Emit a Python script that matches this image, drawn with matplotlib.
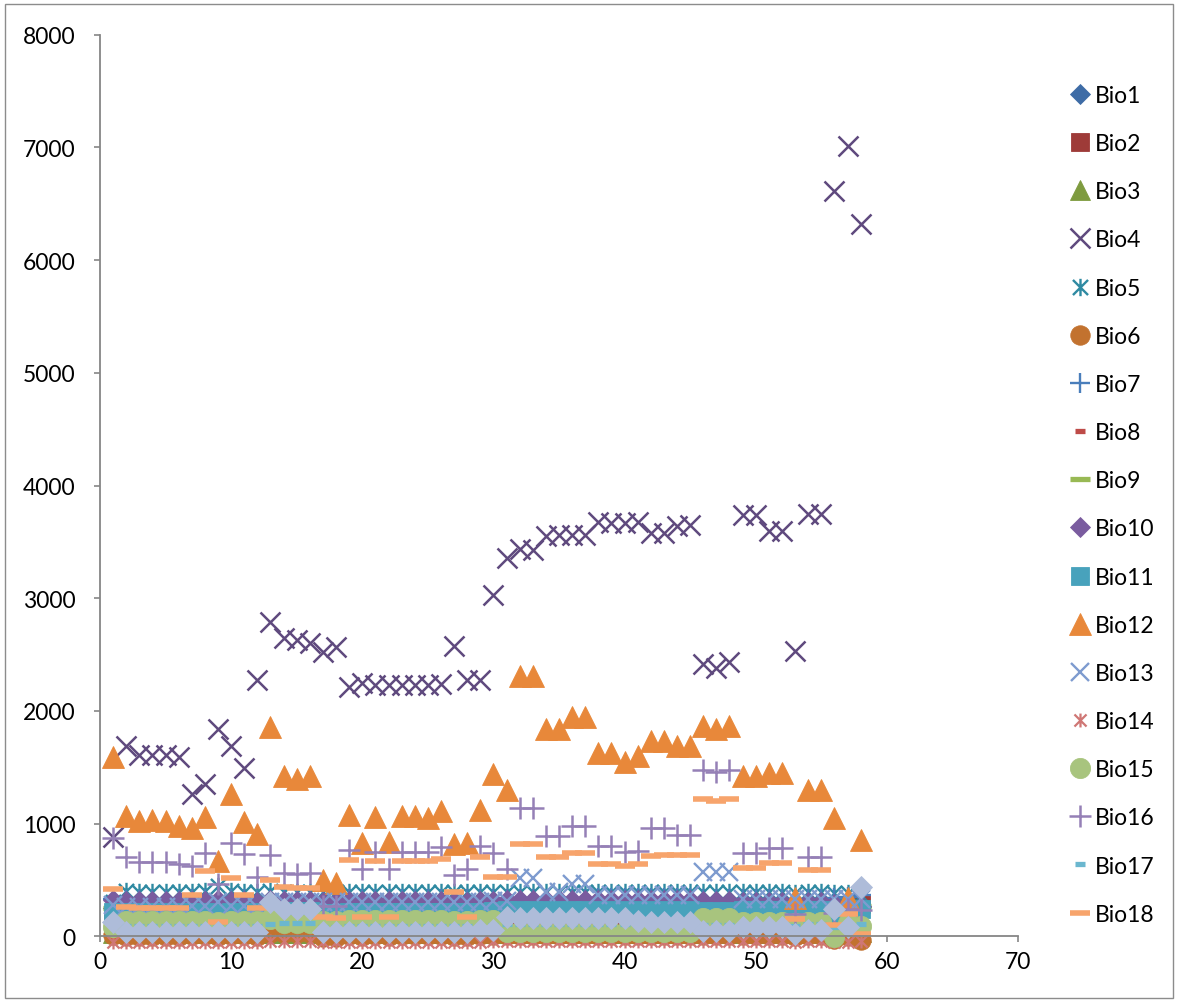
import matplotlib
matplotlib.use('Agg')
import matplotlib.pyplot as plt
from matplotlib.path import Path
from matplotlib.patches import Rectangle

plt.rcParams['font.family'] = ['Lato', 'DejaVu Sans']

# ---------------- data (site index 1..58) ----------------
sites = list(range(1, 59))

bio1 = [250, 240, 245, 245, 245, 245, 235, 240, 230, 245,
        240, 235, 250, 245, 245, 245, 230, 230, 240, 235,
        240, 235, 240, 240, 240, 240, 235, 235, 240, 245,
        250, 250, 250, 255, 255, 255, 255, 250, 250, 250,
        250, 250, 250, 250, 250, 245, 245, 245, 250, 250,
        250, 250, 240, 250, 250, 240, 240, 260]
bio2 = [120, 115, 115, 115, 115, 115, 120, 120, 115, 120,
        120, 115, 125, 120, 120, 120, 110, 110, 120, 115,
        120, 115, 120, 120, 120, 120, 115, 115, 120, 120,
        125, 125, 125, 125, 125, 125, 125, 125, 125, 125,
        125, 125, 125, 125, 125, 120, 120, 120, 125, 125,
        125, 125, 115, 125, 125, 120, 120, 290]
bio3 = [32, 30, 30, 30, 30, 30, 31, 31, 30, 31,
        31, 30, 33, 32, 32, 32, 29, 29, 31, 30,
        31, 30, 31, 31, 31, 31, 30, 30, 31, 32,
        33, 33, 33, 33, 33, 33, 33, 33, 33, 33,
        33, 33, 33, 33, 33, 32, 32, 32, 33, 33,
        33, 33, 30, 33, 33, 31, 31, 35]
bio4 = [880, 1690, 1610, 1610, 1610, 1590, 1260, 1350, 1840, 1690,
        1490, 2270, 2790, 2650, 2630, 2600, 2520, 2570, 2210, 2250,
        2230, 2230, 2230, 2230, 2230, 2240, 2580, 2270, 2270, 3030,
        3360, 3440, 3430, 3550, 3560, 3560, 3560, 3680, 3670, 3670,
        3680, 3580, 3580, 3640, 3650, 2420, 2380, 2430, 3740, 3740,
        3600, 3600, 2530, 3750, 3750, 6610, 7010, 6320]
bio5 = [300, 400, 395, 395, 395, 395, 395, 400, 450, 400,
        395, 390, 400, 395, 395, 395, 390, 390, 395, 390,
        395, 390, 395, 395, 395, 395, 390, 390, 395, 390,
        390, 395, 395, 390, 390, 390, 390, 390, 390, 390,
        390, 390, 390, 390, 390, 390, 390, 390, 390, 390,
        390, 390, 385, 390, 390, 380, 385, 370]
bio6 = [10, 5, 5, 5, 5, 5, 8, 8, 0, 8,
        8, 5, 30, 30, 30, 30, -5, -5, 8, 0,
        8, 0, 8, 8, 8, 8, 5, 0, 8, 10,
        15, 15, 15, 15, 15, 15, 15, 15, 15, 15,
        15, 15, 15, 15, 15, 10, 10, 10, 15, 15,
        15, 15, 5, 15, 15, -20, 0, -30]
bio7 = [330, 320, 320, 320, 320, 320, 330, 330, 340, 330,
        330, 320, 320, 320, 320, 320, 320, 320, 330, 330,
        330, 330, 330, 330, 330, 330, 330, 330, 330, 330,
        330, 330, 330, 330, 330, 330, 330, 340, 340, 340,
        340, 340, 340, 340, 340, 330, 330, 330, 330, 330,
        330, 330, 330, 330, 330, 340, 350, 370]
bio8 = [230, 220, 220, 220, 220, 220, 225, 225, 215, 225,
        225, 220, 240, 235, 235, 235, 210, 210, 225, 220,
        225, 220, 225, 225, 225, 225, 220, 220, 225, 235,
        240, 240, 240, 245, 245, 245, 245, 240, 240, 240,
        240, 240, 240, 240, 240, 235, 235, 235, 240, 240,
        240, 240, 220, 240, 240, 220, 225, 250]
bio9 = [255, 250, 250, 250, 250, 250, 255, 255, 245, 255,
        255, 250, 260, 255, 255, 255, 240, 240, 255, 250,
        255, 250, 255, 255, 255, 255, 250, 250, 255, 260,
        265, 265, 265, 265, 265, 265, 265, 265, 265, 265,
        265, 265, 265, 265, 265, 260, 260, 260, 265, 265,
        265, 265, 250, 265, 265, 250, 255, 270]
bio10 = [320, 310, 310, 310, 310, 310, 310, 315, 320, 310,
         310, 305, 320, 315, 315, 315, 305, 305, 310, 310,
         310, 310, 310, 310, 310, 310, 305, 305, 310, 315,
         320, 320, 320, 320, 320, 320, 320, 320, 320, 320,
         320, 320, 320, 320, 320, 310, 310, 310, 305, 305,
         305, 305, 300, 305, 305, 290, 290, 270]
bio11 = [220, 215, 215, 215, 215, 215, 220, 220, 210, 220,
         220, 215, 230, 225, 225, 225, 205, 205, 220, 215,
         220, 215, 220, 220, 220, 220, 215, 215, 220, 225,
         230, 230, 230, 235, 235, 235, 235, 230, 230, 230,
         230, 230, 230, 230, 230, 225, 225, 225, 230, 230,
         230, 230, 215, 230, 230, 210, 215, 240]
bio12 = [1590, 1070, 1020, 1030, 1020, 980, 965, 1060, 670, 1260,
         1010, 905, 1860, 1420, 1400, 1420, 500, 470, 1080, 830,
         1055, 840, 1065, 1065, 1050, 1110, 820, 830, 1125, 1440,
         1300, 2310, 2310, 1840, 1840, 1950, 1950, 1630, 1630, 1545,
         1600, 1730, 1730, 1690, 1690, 1865, 1835, 1865, 1420, 1420,
         1450, 1450, 340, 1300, 1300, 1050, 340, 855]
bio13 = [280, 260, 260, 260, 260, 260, 265, 265, 300, 265,
         265, 260, 300, 300, 300, 300, 300, 300, 300, 300,
         300, 300, 300, 300, 300, 300, 300, 300, 300, 310,
         310, 520, 520, 390, 390, 460, 460, 370, 370, 370,
         370, 370, 370, 370, 370, 570, 570, 570, 330, 330,
         330, 330, 330, 330, 330, 330, 330, 330]
bio14 = [-50, -50, -50, -50, -50, -50, -50, -50, -50, -50,
         -50, -50, -45, -45, -45, -45, -50, -50, -50, -50,
         -50, -50, -50, -50, -50, -50, -50, -50, -50, -45,
         -40, -40, -40, -40, -40, -40, -40, -40, -40, -40,
         -40, -40, -40, -40, -40, -45, -45, -45, -45, -45,
         -45, -45, -50, -45, -45, -50, -50, -45]
bio15 = [80, 135, 135, 135, 135, 135, 135, 135, 130, 135,
         135, 135, 150, 120, 120, 120, 140, 140, 145, 145,
         145, 145, 145, 145, 145, 145, 140, 140, 145, 145,
         40, 40, 40, 40, 40, 40, 40, 40, 40, 40,
         35, 35, 35, 35, 35, 160, 160, 160, 130, 130,
         130, 130, 120, 130, 130, -10, 120, 95]
bio16 = [870, 700, 660, 660, 660, 640, 620, 735, 460, 830,
         730, 530, 720, 560, 550, 560, 270, 270, 770, 600,
         750, 600, 750, 750, 750, 790, 540, 600, 800, 740,
         600, 1140, 1140, 890, 890, 980, 980, 800, 800, 750,
         760, 960, 960, 900, 900, 1480, 1460, 1480, 740, 740,
         780, 780, 200, 700, 700, 210, 240, 230]
bio17 = [100, 90, 90, 90, 90, 90, 95, 95, 85, 95,
         95, 90, 105, 120, 120, 120, 80, 80, 95, 90,
         95, 90, 95, 95, 95, 95, 90, 90, 95, 100,
         105, 105, 105, 105, 105, 105, 105, 105, 105, 105,
         105, 105, 105, 105, 105, 100, 100, 100, 105, 105,
         105, 105, 90, 105, 105, 85, 90, 110]
bio18 = [420, 260, 250, 250, 250, 250, 370, 580, 130, 520,
         370, 250, 500, 440, 430, 430, 170, 160, 680, 170,
         670, 170, 670, 670, 670, 690, 390, 170, 700, 530,
         530, 820, 820, 700, 700, 740, 740, 640, 640, 620,
         640, 710, 720, 720, 720, 1220, 1200, 1220, 610, 610,
         650, 650, 150, 590, 590, 100, 200, 20]
bio19 = [130, 35, 35, 35, 35, 35, 35, 35, 35, 35,
         35, 35, 300, 240, 240, 240, 40, 40, 40, 40,
         40, 40, 40, 40, 40, 40, 40, 40, 60, 60,
         170, 160, 160, 160, 160, 160, 160, 160, 160, 160,
         140, 130, 130, 130, 130, 45, 45, 45, 80, 80,
         80, 80, 20, 60, 60, 240, 80, 435]

series_names = ['Bio1', 'Bio2', 'Bio3', 'Bio4', 'Bio5', 'Bio6', 'Bio7', 'Bio8',
                'Bio9', 'Bio10', 'Bio11', 'Bio12', 'Bio13', 'Bio14', 'Bio15',
                'Bio16', 'Bio17', 'Bio18', 'Bio19']
series_values = [bio1, bio2, bio3, bio4, bio5, bio6, bio7, bio8, bio9, bio10,
                 bio11, bio12, bio13, bio14, bio15, bio16, bio17, bio18, bio19]
in_legend = [True] * 18 + [False]

x_ticks = [0, 10, 20, 30, 40, 50, 60, 70]
y_ticks = [0, 1000, 2000, 3000, 4000, 5000, 6000, 7000, 8000]

# ---------------- styles ----------------
ASTER = Path([(-1, -1), (1, 1), (-1, 1), (1, -1), (0, -1.15), (0, 1.15)],
             [Path.MOVETO, Path.LINETO, Path.MOVETO, Path.LINETO, Path.MOVETO, Path.LINETO])

styles = [
    dict(marker='D', ms=10.2, color='#3E6CA6', fill=True),     # Bio1
    dict(marker='s', ms=13.0, color='#9E3B38', fill=True),     # Bio2
    dict(marker='^', ms=14.0, color='#7E9B3F', fill=True),     # Bio3
    dict(marker='x', ms=15.0, color='#5F4A7E', mew=1.8),       # Bio4
    dict(marker=ASTER, ms=12.5, color='#2F8AA2', mew=1.7),     # Bio5
    dict(marker='o', ms=14.0, color='#C2722F', fill=True),     # Bio6
    dict(marker='+', ms=14.5, color='#4A7EBB', mew=1.7),       # Bio7
    dict(marker='_', ms=7.5, color='#BE4B48', mew=3.8),        # Bio8
    dict(marker='_', ms=14.0, color='#98B954', mew=3.8),       # Bio9
    dict(marker='D', ms=10.2, color='#7A5C9F', fill=True),     # Bio10
    dict(marker='s', ms=13.0, color='#48A2BC', fill=True),     # Bio11
    dict(marker='^', ms=16.0, color='#E8883A', fill=True),     # Bio12
    dict(marker='x', ms=13.5, color='#7E9BCF', mew=1.7),       # Bio13
    dict(marker=ASTER, ms=10.0, color='#CF7775', mew=1.6),     # Bio14
    dict(marker='o', ms=14.5, color='#A8C47E', fill=True),     # Bio15
    dict(marker='+', ms=15.5, color='#9580B6', mew=1.8),       # Bio16
    dict(marker='_', ms=7.5, color='#6BB7CF', mew=3.8),        # Bio17
    dict(marker='_', ms=15.0, color='#F7A46C', mew=4.0),       # Bio18
    dict(marker='D', ms=10.8, color='#AEBCD9', fill=True),     # Bio19
]

# ---------------- figure ----------------
W, H = 1178, 1003
fig = plt.figure(figsize=(W / 100, H / 100), dpi=100)
ax = fig.add_axes([100 / W, (H - 937.3) / H, 918 / W, 901.6 / H])

handles = []
for name, vals, st, leg in zip(series_names, series_values, styles, in_legend):
    kw = dict(linestyle='none', marker=st['marker'], markersize=st['ms'], clip_on=False)
    if st.get('fill'):
        kw.update(markerfacecolor=st['color'], markeredgecolor=st['color'], markeredgewidth=0.6)
    else:
        kw.update(color=st['color'], markeredgecolor=st['color'], markeredgewidth=st['mew'])
    line, = ax.plot(sites, vals, label=name if leg else '_nolegend_', **kw)
    if leg:
        handles.append(line)

ax.set_xlim(0, 70)
ax.set_ylim(0, 8000)
ax.set_xticks(x_ticks)
ax.set_yticks(y_ticks)
ax.set_xticklabels([str(v) for v in x_ticks])
ax.set_yticklabels([str(v) for v in y_ticks])

axis_gray = '#868686'
for side in ['top', 'right']:
    ax.spines[side].set_visible(False)
for side in ['left', 'bottom']:
    ax.spines[side].set_color(axis_gray)
    ax.spines[side].set_linewidth(1.3)
ax.tick_params(axis='both', direction='out', length=4.5, width=1.2, color=axis_gray,
               labelsize=16.5, labelcolor='black')
ax.tick_params(axis='y', pad=13)
ax.tick_params(axis='x', pad=6)

leg = fig.legend(handles=handles, labels=[h.get_label() for h in handles],
                 loc='upper left', bbox_to_anchor=(1070 / W, 1 - 86 / H),
                 frameon=False, fontsize=16.5, handlelength=0.85, handletextpad=0.25,
                 labelspacing=1.185, borderpad=0, borderaxespad=0, numpoints=1)

fig.patches.append(Rectangle((5 / W, 4 / H), 1168 / W, 994 / H, transform=fig.transFigure,
                             fill=False, edgecolor='#8C8C8C', linewidth=1.0))

fig.savefig('out.png', dpi=100)
